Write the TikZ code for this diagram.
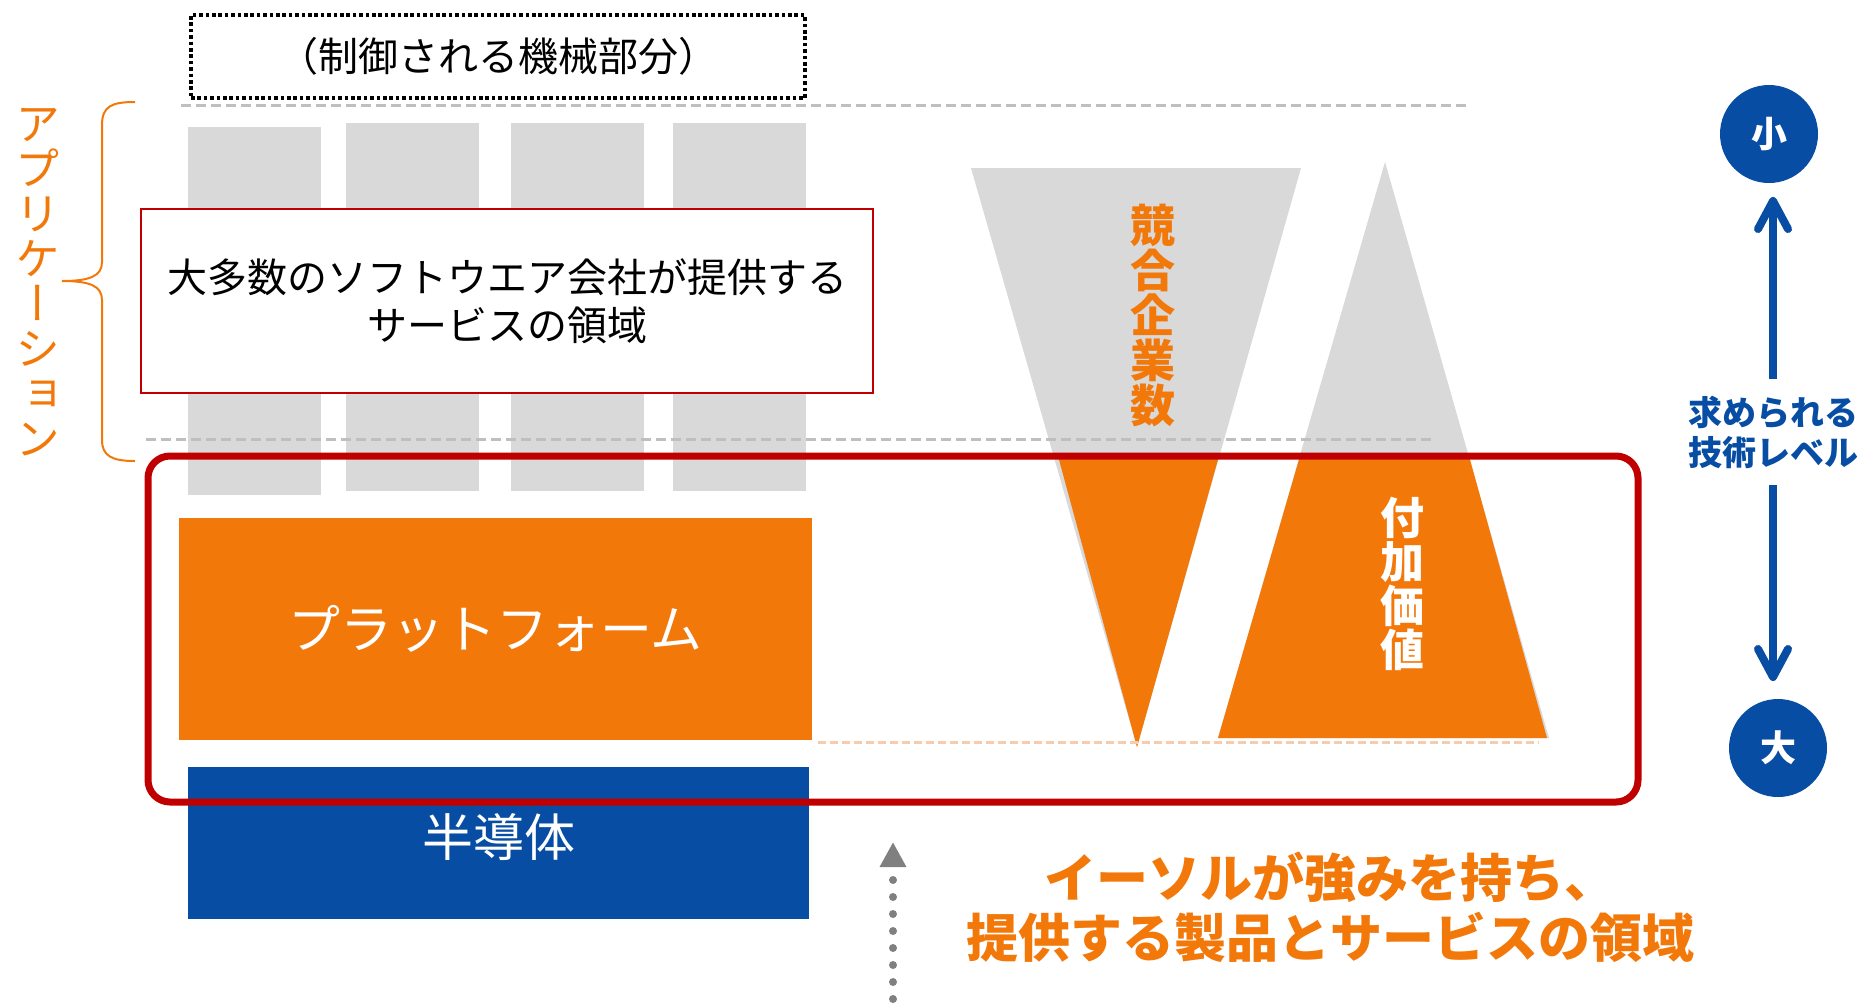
\documentclass[tikz,border=0pt]{standalone}
\usepackage{fontspec}
\setmainfont{Noto Sans CJK JP}
\newfontfamily\vjp[RawFeature=+vert]{Noto Sans CJK JP}
\usetikzlibrary{arrows.meta}
\definecolor{cgray}{HTML}{D9D9D9}
\definecolor{dgray}{HTML}{BFBFBF}
\definecolor{ora}{HTML}{F2780A}
\definecolor{blu}{HTML}{074DA3}
\definecolor{red7}{HTML}{C00000}
\definecolor{lor}{HTML}{F8CBAD}
\definecolor{g5}{HTML}{808080}
\begin{document}
\begin{tikzpicture}[x=0.5pt,y=-0.5pt,
  every node/.style={inner sep=0pt, outer sep=0pt},
  col/.style={fill=cgray, anchor=north west, minimum width=66.5pt, minimum height=184pt},
  guide/.style={draw=dgray, line width=1.5pt, dash pattern=on 5pt off 2.5pt},
  block/.style={anchor=north west, text=white, font=\fontsize{26pt}{30pt}\selectfont},
  badge/.style={circle, fill=blu, minimum size=49pt, text=white, font=\bfseries\fontsize{18pt}{18pt}\selectfont},
  lvlarrow/.style={blu, line width=4pt, -{Straight Barb[length=14pt,width=15pt,line cap=round,line join=round]}}
]
\useasboundingbox (0,0) rectangle (1863,1003);

% top dashed guide
\draw[guide] (181,105) -- (1468,105);

% columns
\node[col] (c1) at (188,127) {};
\node[col] (c2) at (346,123) {};
\node[col] (c3) at (511,123) {};
\node[col] (c4) at (673,123) {};

% software box
\node[draw=red7, line width=1pt, fill=white, anchor=north west, minimum width=366pt, minimum height=92pt,
      align=center, font=\fontsize{20pt}{24pt}\selectfont] (soft) at (141,209)
      {大多数のソフトウエア会社が提供する\\サービスの領域};

% dotted box
\node[draw=black, line width=2pt, dash pattern=on 1.8pt off 1.4pt, anchor=north west,
      minimum width=307pt, minimum height=41.5pt, font=\fontsize{20pt}{20pt}\selectfont] (mech) at (191,15)
      {（制御される機械部分）};

% brace
\draw[ora, line width=1pt] (135,102) .. controls (112,102) and (102,106) .. (102,125) -- (102,262)
  .. controls (102,276) and (90,281) .. (62,281)
  .. controls (90,281) and (102,286) .. (102,300) -- (102,440)
  .. controls (102,456) and (112,461) .. (135,461);
\node[align=center, text=ora, font=\vjp\fontsize{22.5pt}{22.5pt}\selectfont] (app) at (38,282)
  {ア\\プ\\リ\\ケ\\ー\\シ\\ョ\\ン};

% V shape (competitors)
\fill[cgray] (971,168) -- (1301,168) -- (1137,747) -- cycle;
\fill[ora] (1058,456) -- (1219,456) -- (1137,747) -- cycle;
% triangle (added value)
\fill[cgray] (1385,162) -- (1549,738) -- (1218,738) -- cycle;
\fill[ora] (1300,456) -- (1469,456) -- (1547,738) -- (1218,738) -- cycle;

% lower dashed guide
\draw[guide] (146,439) -- (1434,439);

% light orange dashed line
\draw[lor, line width=1.5pt, dash pattern=on 4pt off 2pt] (818,742) -- (1539,742);

% platform and semiconductor
\node[block, fill=ora, minimum width=316.5pt, minimum height=111pt] (plat) at (179,518) {プラットフォーム};
\node[block, fill=blu, minimum width=310.5pt, minimum height=76pt] (semi) at (188,767) {};
\node[text=white, font=\fontsize{25.5pt}{30pt}\selectfont] (semit) at (499,837) {半導体};

% red zone
\node[draw=red7, line width=3.5pt, rounded corners=11pt, anchor=north west,
      minimum width=745pt, minimum height=173pt] (zone) at (148,456) {};

% vertical labels
\node[align=center, text=ora, font=\bfseries\fontsize{22.5pt}{22.5pt}\selectfont] (kyo) at (1153,316) {競\\合\\企\\業\\数};
\node[align=center, text=white, font=\bfseries\fontsize{22pt}{22pt}\selectfont] (fuka) at (1402,584) {付\\加\\価\\値};

% level scale
\node[badge] (sho) at (1769,134) {小};
\node[badge] (dai) at (1778,748) {大};
\node[align=center, text=blu, minimum height=53pt, font=\bfseries\fontsize{17pt}{20pt}\selectfont] (lvl) at (1773,432)
  {求められる\\技術レベル};
\draw[lvlarrow, shorten >=7pt] (lvl.north) -- (lvl.north |- sho.south);
\draw[lvlarrow, shorten >=9pt] (lvl.south) -- (lvl.south |- dai.north);

% gray dotted arrow
\coordinate (pb) at (893,1016);
\coordinate (pt) at (893,842);
\draw[g5, line width=4pt, line cap=round, dash pattern=on 0pt off 8.5pt,
      -{Triangle[length=12.5pt,width=12.5pt]}] (pb) -- (pt);

% bottom caption
\node[align=center, text=ora, font=\bfseries\fontsize{26pt}{30pt}\selectfont] (strong) at (1330,907)
  {イーソルが強みを持ち、\\提供する製品とサービスの領域};
\end{tikzpicture}
\end{document}
